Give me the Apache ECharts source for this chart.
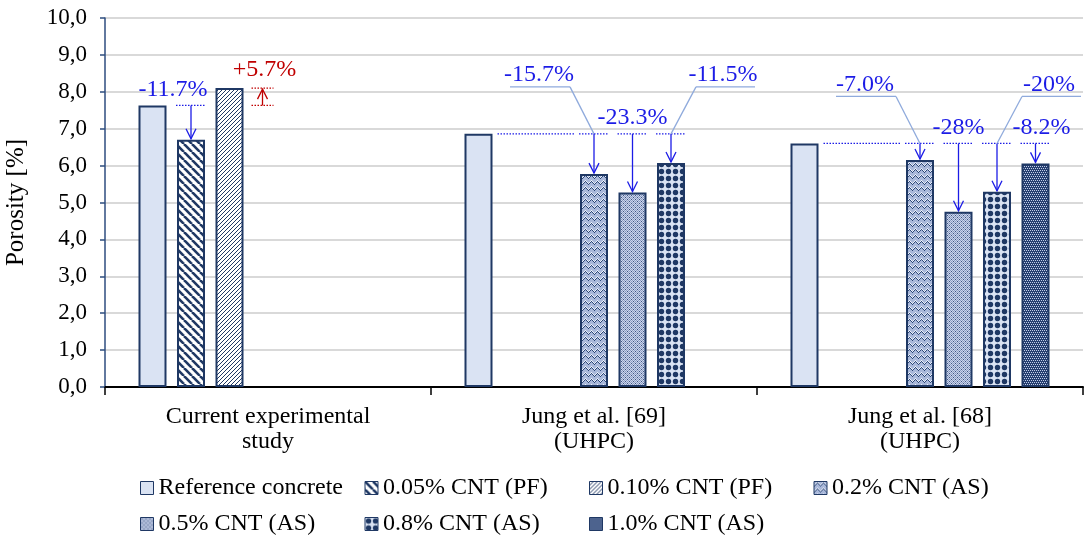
<!DOCTYPE html>
<html>
<head>
<meta charset="utf-8">
<title>Porosity</title>
<script src="https://cdn.jsdelivr.net/npm/echarts@6.0.0/dist/echarts.min.js"></script>
<style>
  html, body { margin: 0; padding: 0; background: #fff; }
  #chart { width: 1084px; height: 544px; }
</style>
</head>
<body>
<div id="chart"></div>
<script>
const FONT = '"Liberation Serif", "Times New Roman", serif'

// categories and series
const categories = ['Current experimental\nstudy', 'Jung et al. [69]\n(UHPC)', 'Jung et al. [68]\n(UHPC)']
const seriesNames = ['Reference concrete', '0.05% CNT (PF)', '0.10% CNT (PF)', '0.2% CNT (AS)', '0.5% CNT (AS)', '0.8% CNT (AS)', '1.0% CNT (AS)']
const refConcrete = [7.63, 6.86, 6.60]
const cnt005pf = [6.70, '-', '-']
const cnt010pf = [8.10, '-', '-']
const cnt02as = ['-', 5.77, 6.15]
const cnt05as = ['-', 5.27, 4.75]
const cnt08as = ['-', 6.07, 5.29]
const cnt10as = ['-', '-', 6.06]
const seriesData = [refConcrete, cnt005pf, cnt010pf, cnt02as, cnt05as, cnt08as, cnt10as]

// change annotations (category, series index, text)
const annCategory = [0, 0, 1, 1, 1, 2, 2, 2, 2]
const annSeries = [1, 2, 3, 4, 5, 3, 4, 5, 6]
const annText = ['-11.7%', '+5.7%', '-15.7%', '-23.3%', '-11.5%', '-7.0%', '-28%', '-20%', '-8.2%']

// how each annotation is drawn
const annKind = ['above', 'increase', 'leaderLeft', 'above', 'leaderRight', 'leaderLeft', 'above', 'leaderRight', 'above']
const annDx = [-18, 33, 0, 0, 0, 0, 0, 0, 6]
const annRefLine = [false, false, true, false, false, true, false, false, false]

const NAVY = '#1f3864'
const BLUE = '#1c1ce6'
const RED = '#c00000'
const LEADER = '#8faadc'
const BAR_W = 28
const BAR_GAP = 0.375
const SLOT = BAR_W * (1 + BAR_GAP)

// fill patterns
function tile(w, h, paint) {
  const c = document.createElement('canvas')
  c.width = w
  c.height = h
  paint(c.getContext('2d'), w, h)
  return { image: c, repeat: 'repeat' }
}
function pixels(rows, palette) {
  return tile(rows[0].length, rows.length, (ctx) => {
    rows.forEach((row, y) => {
      [...row].forEach((ch, x) => {
        ctx.fillStyle = palette[ch]
        ctx.fillRect(x, y, 1, 1)
      })
    })
  })
}

const fills = [
  '#dae3f3',
  tile(8, 8, (ctx) => {
    ctx.fillStyle = '#ffffff'
    ctx.fillRect(0, 0, 8, 8)
    ctx.strokeStyle = NAVY
    ctx.lineWidth = 2.6
    for (const k of [-8, 0, 8]) {
      ctx.beginPath()
      ctx.moveTo(k, 0)
      ctx.lineTo(k + 8, 8)
      ctx.stroke()
    }
  }),
  tile(4, 4, (ctx) => {
    ctx.fillStyle = '#ffffff'
    ctx.fillRect(0, 0, 4, 4)
    ctx.strokeStyle = NAVY
    ctx.lineWidth = 1
    for (const k of [-4, 0, 4]) {
      ctx.beginPath()
      ctx.moveTo(k, 4)
      ctx.lineTo(k + 4, 0)
      ctx.stroke()
    }
  }),
  pixels([
    '...L..',
    '..LdL.',
    '.Ld.dL',
    'Ld...d',
    'd.....',
    '......',
  ], { '.': '#a9b8da', 'L': '#eef2fa', 'd': '#2b4778' }),
  pixels([
    'mLmL',
    'LdLm',
    'mLmL',
    'LmLd',
  ], { d: '#3d5585', m: '#8b9cc4', L: '#cdd6ea' }),
  tile(7, 7, (ctx) => {
    ctx.fillStyle = '#dae3f3'
    ctx.fillRect(0, 0, 7, 7)
    ctx.fillStyle = NAVY
    ctx.beginPath()
    ctx.arc(3.5, 3.5, 2.7, 0, Math.PI * 2)
    ctx.fill()
  }),
  pixels([
    'dLdL',
    'dddd',
    'LdLd',
    'dddd',
  ], { d: '#263f70', L: '#c3cfe9' }),
]

const notes = annCategory.map((c, i) => [c, refConcrete[c], seriesData[annSeries[i]][c]])

function renderNote(params, api) {
  const i = params.dataIndex
  const cat = api.value(0)
  const x0 = api.coord([cat, 0])[0]
  const yRef = api.coord([cat, api.value(1)])[1]
  const yVal = api.coord([cat, api.value(2)])[1]
  const xb = x0 + (annSeries[i] - 3) * SLOT
  const kids = []
  const dotted = (xa, xe, y, color) => kids.push({
    type: 'line',
    shape: { x1: xa, y1: y, x2: xe, y2: y },
    style: { stroke: color, lineWidth: 1.3, lineDash: [1.5, 1.5] },
  })
  const seg = (x1, y1, x2, y2, color) => kids.push({
    type: 'line',
    shape: { x1, y1, x2, y2 },
    style: { stroke: color, lineWidth: 1.3 },
  })
  const head = (pts, color) => kids.push({
    type: 'polyline',
    shape: { points: pts },
    style: { stroke: color, lineWidth: 1.3, fill: null },
  })
  const label = (x, y, color) => kids.push({
    type: 'text',
    style: { text: annText[i], x, y, align: 'center', verticalAlign: 'bottom', fill: color, fontSize: 24, fontFamily: FONT },
  })

  if (annKind[i] === 'increase') {
    const xa = xb + annDx[i]
    dotted(xa - 11, xa + 11, yRef, RED)
    dotted(xa - 11, xa + 11, yVal, RED)
    seg(xa, yRef, xa, yVal + 1, RED)
    head([[xa - 5, yVal + 11], [xa, yVal + 1], [xa + 5, yVal + 11]], RED)
    label(xa + 2, yVal - 6, RED)
    return { type: 'group', children: kids }
  }

  dotted(xb - 15, xb + 15, yRef, BLUE)
  if (annRefLine[i])
    dotted(x0 - 3 * SLOT + BAR_W / 2 + 5, xb - 19, yRef, BLUE)
  seg(xb, yRef, xb, yVal - 1, BLUE)
  head([[xb - 5, yVal - 11], [xb, yVal - 1], [xb + 5, yVal - 11]], BLUE)

  const yl = yRef - 47
  if (annKind[i] === 'above') {
    label(xb + annDx[i], yRef - 4, BLUE)
  }
  else if (annKind[i] === 'leaderLeft') {
    seg(xb - 84, yl, xb - 24, yl, LEADER)
    seg(xb - 24, yl, xb, yRef, LEADER)
    label(xb - 55, yl, BLUE)
  }
  else {
    seg(xb + 25, yl, xb + 84, yl, LEADER)
    seg(xb + 25, yl, xb, yRef, LEADER)
    label(xb + 52, yl, BLUE)
  }
  return { type: 'group', children: kids }
}

const chart = echarts.init(document.getElementById('chart'), null, { renderer: 'canvas' })

const option = {
  animation: false,
  textStyle: { fontFamily: FONT },
  grid: { left: 105, right: 1, top: 18, bottom: 157, outerBoundsMode: 'none', containLabel: false },
  legend: {
    data: seriesNames,
    left: 140,
    top: 476,
    width: 920,
    padding: 0,
    itemWidth: 13,
    itemHeight: 13,
    itemGap: 12,
    icon: 'rect',
    itemStyle: { borderColor: NAVY, borderWidth: 1 },
    textStyle: { fontFamily: FONT, fontSize: 24, color: '#000', width: 194, lineHeight: 22 },
  },
  xAxis: {
    type: 'category',
    data: categories,
    axisLine: { lineStyle: { color: '#000', width: 2 } },
    axisTick: { show: true, length: 8, lineStyle: { color: '#000', width: 1.5 } },
    axisLabel: { color: '#000', fontSize: 24, lineHeight: 25, margin: 17, fontFamily: FONT },
  },
  yAxis: {
    type: 'value',
    min: 0,
    max: 10,
    interval: 1,
    name: 'Porosity [%]',
    nameLocation: 'middle',
    nameGap: 76,
    nameRotate: 90,
    nameTextStyle: { color: '#000', fontSize: 25, fontFamily: FONT },
    axisLine: { show: true, lineStyle: { color: '#2e4d7f', width: 1.5 } },
    axisTick: { show: true, length: 5, lineStyle: { color: '#2e4d7f', width: 1.5 } },
    axisLabel: {
      color: '#000',
      fontSize: 23,
      margin: 18,
      fontFamily: FONT,
      formatter: v => v.toFixed(1).replace('.', ','),
    },
    splitLine: { show: true, lineStyle: { color: '#d9d9d9', width: 2 } },
  },
  series: [
    ...seriesNames.map((name, k) => ({
      name,
      type: 'bar',
      data: seriesData[k],
      barWidth: BAR_W,
      barGap: (BAR_GAP * 100) + '%',
      itemStyle: { color: fills[k], borderColor: NAVY, borderWidth: 2 },
    })),
    {
      type: 'custom',
      name: 'notes',
      data: notes,
      renderItem: renderNote,
      encode: { x: 0, y: [1, 2] },
      silent: true,
      clip: false,
      z: 10,
    },
  ],
}

chart.setOption(option)
window.addEventListener('resize', () => chart.resize())
</script>
</body>
</html>
